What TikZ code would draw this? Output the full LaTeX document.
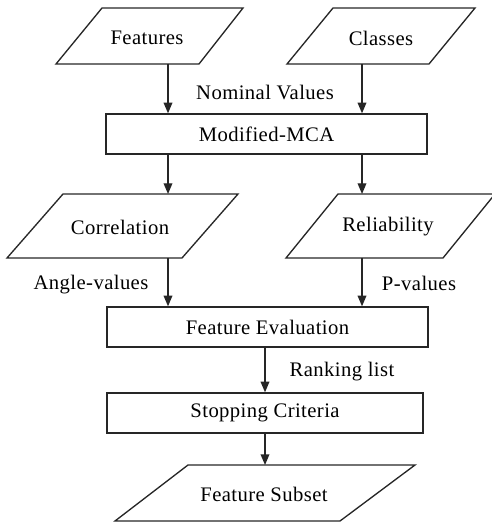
\documentclass[tikz,border=0pt]{standalone}
\usepackage{fontspec}
\setmainfont[LetterSpace=2]{Liberation Serif}
\usetikzlibrary{arrows.meta}
\begin{document}
\begin{tikzpicture}[x=0.75pt,y=-0.75pt,
  shapeline/.style={draw=black!85,line width=1pt},
  txt/.style={font=\fontsize{15.5}{18}\selectfont,inner sep=0pt},
  procbox/.style={shapeline,rectangle,minimum height=30pt,inner sep=0pt,font=\fontsize{15.5}{18}\selectfont},
  arr/.style={draw=black!85,line width=1pt,-{Triangle[length=8pt,width=6.5pt]}}]
\useasboundingbox (0,0) rectangle (491,523);
% Features
\coordinate (fTL) at (102,8); \coordinate (fTR) at (243,8);
\coordinate (fBR) at (199,64); \coordinate (fBL) at (56,64);
\draw[shapeline] (fTL) -- (fTR) -- (fBR) -- (fBL) -- cycle;
\node[txt] (feat) at (147,38) {Features};
% Classes
\coordinate (cTL) at (333,8); \coordinate (cTR) at (475,8);
\coordinate (cBR) at (429,64); \coordinate (cBL) at (287,64);
\draw[shapeline] (cTL) -- (cTR) -- (cBR) -- (cBL) -- cycle;
\node[txt] (cls) at (381,38) {Classes};
% Modified-MCA
\node[procbox,minimum width=240.75pt] (mca) at (266.5,134) {Modified-MCA};
\coordinate (fout) at (168,64);
\coordinate (cout) at (362,64);
\draw[arr] (fout) -- (mca.north -| fout);
\draw[arr] (cout) -- (mca.north -| cout);
\node[txt] (nom) at (265,92) {Nominal Values};
% Correlation
\coordinate (rTL) at (63,194); \coordinate (rTR) at (238,194);
\coordinate (rBR) at (182,258); \coordinate (rBL) at (7,258);
\draw[shapeline] (rTL) -- (rTR) -- (rBR) -- (rBL) -- cycle;
\node[txt] (corr) at (120,227) {Correlation};
% Reliability
\coordinate (lTL) at (338,194); \coordinate (lTR) at (495,194);
\coordinate (lBR) at (443,258); \coordinate (lBL) at (286,258);
\draw[shapeline] (lTL) -- (lTR) -- (lBR) -- (lBL) -- cycle;
\node[txt] (rel) at (388,227) {Reliability};
\coordinate (corrin) at (168,194);
\coordinate (relin) at (362,194);
\draw[arr] (mca.south -| corrin) -- (corrin);
\draw[arr] (mca.south -| relin) -- (relin);
% Feature Evaluation
\node[procbox,minimum width=240.75pt] (fe) at (267.5,327) {Feature Evaluation};
\coordinate (corrout) at (168,258);
\coordinate (relout) at (362,258);
\draw[arr] (corrout) -- (fe.north -| corrout);
\draw[arr] (relout) -- (fe.north -| relout);
\node[txt] (ang) at (91,285) {Angle-values};
\node[txt] (pval) at (419,283) {P-values};
% Stopping Criteria
\node[procbox,minimum width=237pt] (sc) at (265,413) {Stopping Criteria};
\coordinate (mid) at (265,0);
\draw[arr] (fe.south -| mid) -- (sc.north -| mid);
\node[txt] (rank) at (342,372) {Ranking list};
% Feature Subset
\coordinate (sTL) at (188,465); \coordinate (sTR) at (415,465);
\coordinate (sBR) at (340,521); \coordinate (sBL) at (115,521);
\draw[shapeline] (sTL) -- (sTR) -- (sBR) -- (sBL) -- cycle;
\node[txt] (sub) at (264,494) {Feature Subset};
\coordinate (subin) at (265,465);
\draw[arr] (sc.south -| mid) -- (subin);
\end{tikzpicture}
\end{document}
